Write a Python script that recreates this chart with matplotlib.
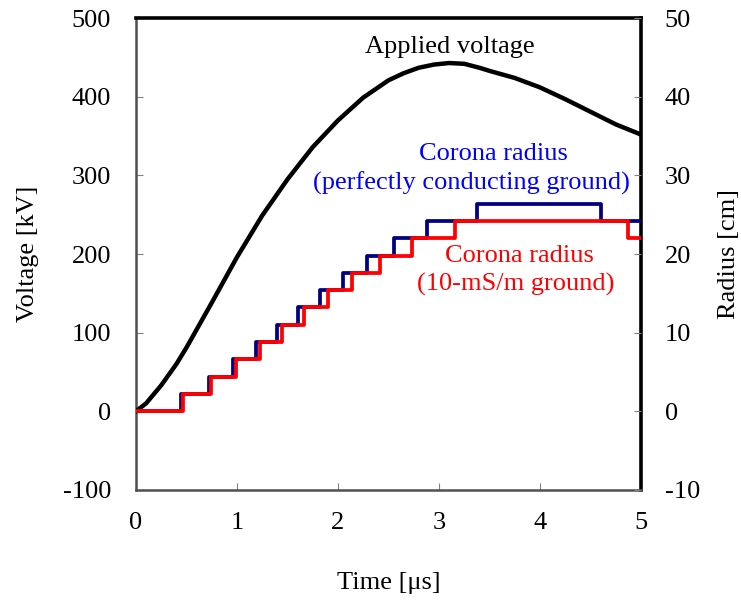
import numpy as np
import matplotlib
matplotlib.use('Agg')
import matplotlib.pyplot as plt

plt.rcParams['font.family'] = ['Liberation Serif', 'DejaVu Serif']
plt.rcParams['axes.unicode_minus'] = False

# applied voltage [kV] vs time [us]
t_v = [0, 0.1, 0.25, 0.4, 0.5, 0.75, 1.0, 1.25, 1.5, 1.75, 2.0, 2.25, 2.5,
       2.65, 2.8, 2.95, 3.1, 3.25, 3.4, 3.5, 3.75, 4.0, 4.25, 4.5, 4.75, 5.0]
volt = [0, 10, 33, 60, 81, 138, 196, 249, 295, 336, 370, 399, 421,
        430, 437, 441, 443, 442, 437, 433, 424, 412, 397, 381, 365, 352]

# corona radius [cm], perfectly conducting ground
t_pc = [0, 0.443, 0.723, 0.963, 1.188, 1.393, 1.607, 1.822, 2.053, 2.290,
        2.554, 2.878, 3.373, 4.60, 5.0]
r_pc = [0, 2.2, 4.4, 6.6, 8.8, 11.0, 13.2, 15.4, 17.6, 19.8,
        22.0, 24.2, 26.4, 24.2, 24.2]

# corona radius [cm], 10-mS/m ground
t_lg = [0, 0.462, 0.743, 0.990, 1.228, 1.442, 1.663, 1.904, 2.136, 2.416,
        2.73, 3.158, 4.874, 5.0]
r_lg = [0, 2.2, 4.4, 6.6, 8.8, 11.0, 13.2, 15.4, 17.6, 19.8,
        22.0, 24.2, 22.0, 22.0]

fig = plt.figure(figsize=(7.41, 6.07), dpi=100)
ax = fig.add_axes([0.1835, 0.193, 0.6815, 0.777])
ax2 = ax.twinx()

ax.plot(t_v, volt, color='black', lw=3.2, zorder=3, solid_joinstyle='round')
ax2.step(t_pc, r_pc, where='post', color='#000080', lw=2.7)
ax2.step(t_lg, r_lg, where='post', color='#ff0000', lw=2.7)

ax.set_xlim(0, 5)
ax.set_ylim(-100, 500)
ax2.set_ylim(-10, 50)
ax.set_xticks(range(0, 6))
ax.set_yticks(range(-100, 501, 100))
ax2.set_yticks(range(-10, 51, 10))

fs = 19
ax.tick_params(direction='in', length=5, color='#808080', labelsize=fs, pad=18)
ax.tick_params(axis='x', pad=16)
ax2.tick_params(direction='in', length=5, color='#808080', labelsize=fs, pad=17)

for s in ['left', 'bottom']:
    ax.spines[s].set_color('#505050')
    ax.spines[s].set_linewidth(1.8)
for s in ['top', 'right']:
    ax.spines[s].set_color('black')
    ax.spines[s].set_linewidth(2.6)
for s in ax2.spines.values():
    s.set_visible(False)

ax.set_xlabel('Time [μs]', fontsize=fs, labelpad=27)
ax.set_ylabel('Voltage [kV]', fontsize=fs, labelpad=17)
ax2.set_ylabel('Radius [cm]', fontsize=fs, labelpad=13)

ax.text(3.11, 463, 'Applied voltage', fontsize=fs, ha='center', va='center')
ax.text(3.535, 327, 'Corona radius', fontsize=fs,
        ha='center', va='center', color='#0000ff')
ax.text(3.317, 290, '(perfectly conducting ground)', fontsize=fs,
        ha='center', va='center', color='#0000ff')
ax.text(3.80, 198, 'Corona radius', fontsize=fs,
        ha='center', va='center', color='#ff0000')
ax.text(3.76, 161, '(10-mS/m ground)', fontsize=fs,
        ha='center', va='center', color='#ff0000')

plt.savefig('out.png', dpi=100)
